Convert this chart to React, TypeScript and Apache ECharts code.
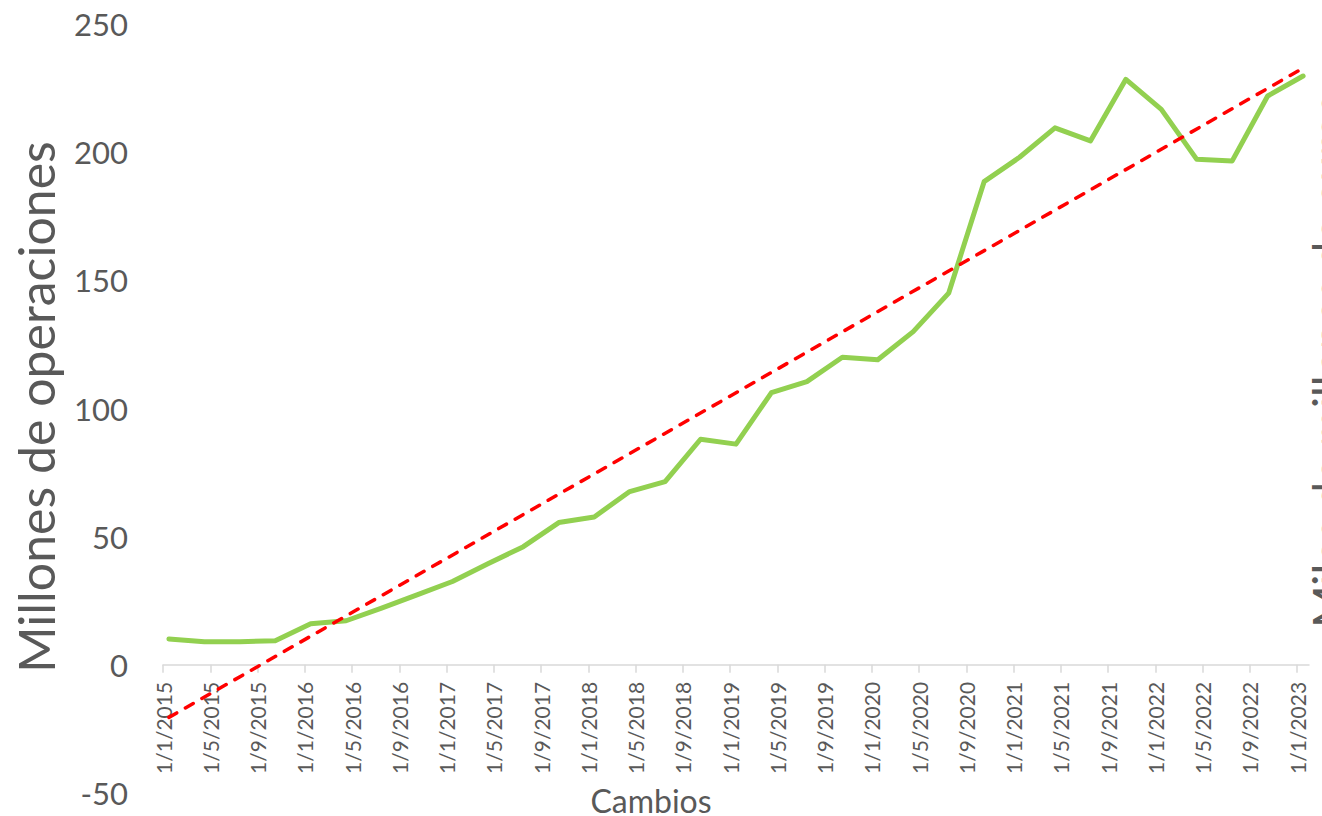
import React, { useEffect, useRef } from "react";
import * as echarts from "echarts";

// Quarterly observation dates (d/m/yyyy) and values (millones de operaciones)
const dates: string[] = [
  "1/1/2015", "1/4/2015", "1/7/2015", "1/10/2015",
  "1/1/2016", "1/4/2016", "1/7/2016", "1/10/2016",
  "1/1/2017", "1/4/2017", "1/7/2017", "1/10/2017",
  "1/1/2018", "1/4/2018", "1/7/2018", "1/10/2018",
  "1/1/2019", "1/4/2019", "1/7/2019", "1/10/2019",
  "1/1/2020", "1/4/2020", "1/7/2020", "1/10/2020",
  "1/1/2021", "1/4/2021", "1/7/2021", "1/10/2021",
  "1/1/2022", "1/4/2022", "1/7/2022", "1/10/2022",
  "1/1/2023",
];
const operaciones: number[] = [
  10.1, 9.0, 9.0, 9.4,
  16.0, 17.2, 22.1, 27.3,
  32.5, 39.4, 46.1, 55.5,
  57.7, 67.6, 71.5, 88.0,
  86.1, 106.2, 110.5, 120.0,
  119.0, 130.0, 145.0, 188.5,
  198.0, 209.5, 204.4, 228.4,
  216.7, 197.2, 196.6, 221.9,
  229.7,
];
// Linear trend end values (at first and last observation)
const trendDates: string[] = ["1/1/2015", "1/1/2023"];
const trendValues: number[] = [-20.5, 232.8];

const tickLabels: string[] = [
  "1/1/2015", "1/5/2015", "1/9/2015",
  "1/1/2016", "1/5/2016", "1/9/2016",
  "1/1/2017", "1/5/2017", "1/9/2017",
  "1/1/2018", "1/5/2018", "1/9/2018",
  "1/1/2019", "1/5/2019", "1/9/2019",
  "1/1/2020", "1/5/2020", "1/9/2020",
  "1/1/2021", "1/5/2021", "1/9/2021",
  "1/1/2022", "1/5/2022", "1/9/2022",
  "1/1/2023",
];

const yTitle = "Millones de operaciones";
const y2Title = "Miles de millones de euros";
const xTitle = "Cambios";

// month index from 1/1/2015
const monthIndex = (d: string): number => {
  const [, m, y] = d.split("/").map(Number);
  return (y - 2015) * 12 + (m - 1);
};

const TEXT = "#595959";
const FONT = "Lato, 'Open Sans', sans-serif";
const GRID_TOP = 24;
const GRID_BOTTOM = 23;
const Y_MIN = -50;
const Y_MAX = 250;

export default function App() {
  const ref = useRef<HTMLDivElement>(null);
  useEffect(() => {
    if (!ref.current) return;
    const chart = echarts.init(ref.current, undefined, { renderer: "svg" });
    const tickValues = tickLabels.map(monthIndex);
    const labelMap: Record<number, string> = {};
    tickLabels.forEach((t) => (labelMap[monthIndex(t)] = t));
    // distance from grid bottom up to the zero line
    const plotH = 816 - GRID_TOP - GRID_BOTTOM;
    const zeroOffset = (plotH * (0 - Y_MIN)) / (Y_MAX - Y_MIN);
    chart.setOption({
      animation: false,
      grid: {
        left: 163,
        right: 13,
        top: GRID_TOP,
        bottom: GRID_BOTTOM,
        containLabel: false,
        outerBoundsMode: "none",
      },
      xAxis: {
        type: "value",
        min: 0,
        max: 97,
        interval: 4,
        position: "bottom",
        offset: -zeroOffset,
        axisLine: { onZero: false, lineStyle: { color: "#d9d9d9", width: 1.5 } },
        axisTick: {
          show: true,
          customValues: tickValues,
          length: 8,
          lineStyle: { color: "#d9d9d9", width: 1.5 },
        },
        splitLine: { show: false },
        axisLabel: {
          customValues: tickValues,
          rotate: 90,
          margin: 17,
          color: TEXT,
          fontFamily: FONT,
          fontSize: 21,
          hideOverlap: false,
          formatter: (v: number) => labelMap[v] ?? "",
        },
      },
      yAxis: {
        type: "value",
        min: Y_MIN,
        max: Y_MAX,
        interval: 50,
        axisLine: { show: false },
        axisTick: { show: false },
        splitLine: { show: false },
        axisLabel: {
          color: TEXT,
          fontFamily: FONT,
          fontSize: 31,
          margin: 35,
        },
      },
      graphic: [
        {
          type: "text",
          x: 36,
          y: 407,
          rotation: Math.PI / 2,
          style: {
            text: yTitle,
            fill: TEXT,
            font: `50px ${FONT}`,
            textAlign: "center",
            textVerticalAlign: "middle",
          },
        },
        {
          type: "text",
          x: 1305,
          y: 628,
          rotation: Math.PI / 2,
          style: {
            text: y2Title,
            fill: TEXT,
            font: `46px ${FONT}`,
            textAlign: "left",
            textVerticalAlign: "top",
          },
        },
        {
          type: "text",
          x: 651,
          y: 800,
          style: {
            text: xTitle,
            fill: TEXT,
            font: `32px ${FONT}`,
            textAlign: "center",
            textVerticalAlign: "middle",
          },
        },
      ],
      series: [
        {
          type: "line",
          data: dates.map((d, i) => [monthIndex(d) + 0.5, operaciones[i]]),
          showSymbol: false,
          symbol: "none",
          lineStyle: { color: "#92D050", width: 5, cap: "round", join: "round" },
          z: 2,
        },
        {
          type: "line",
          data: trendDates.map((d, i) => [monthIndex(d) + 0.5, trendValues[i]]),
          showSymbol: false,
          symbol: "none",
          lineStyle: {
            color: "#FF0000",
            width: 3.5,
            type: [9, 10],
            cap: "round",
          },
          z: 3,
        },
      ],
    });
    return () => chart.dispose();
  }, []);
  return <div ref={ref} style={{ width: 1322, height: 816, position: "absolute", left: 0, top: 0 }} />;
}
